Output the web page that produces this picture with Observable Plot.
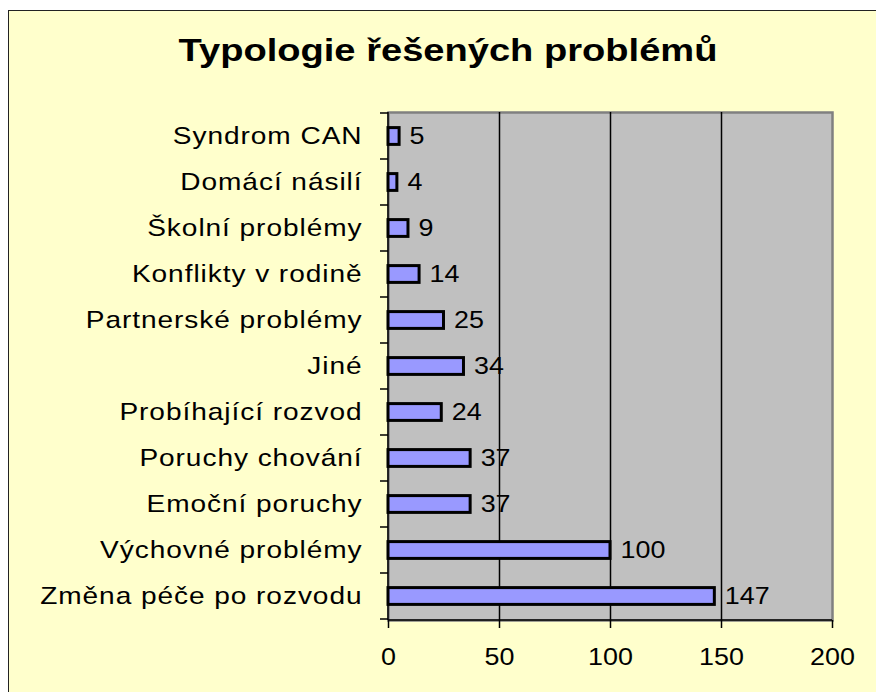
<!DOCTYPE html>
<html><head><meta charset="utf-8">
<script src="https://cdn.jsdelivr.net/npm/d3@7"></script>
<script src="https://cdn.jsdelivr.net/npm/@observablehq/plot@0.6"></script>
<style>
body{margin:0;background:#fff;}
#wrap{position:relative;width:876px;height:692px;overflow:hidden;}
#frame{position:absolute;left:8px;top:10px;width:900px;height:700px;border:1.5px solid #222;background:#FFFFCC;}
#title{position:absolute;left:0;width:896px;top:32px;line-height:36px;text-align:center;font:bold 32px "Liberation Sans",Arial,sans-serif;color:#000;transform:scaleX(1.19);transform-origin:448px 50%;}
#chart{position:absolute;left:0;top:0;}
</style></head><body>
<div id="wrap"><div id="frame"></div><div id="chart"></div><div id="title">Typologie řešených problémů</div></div>
<script>
const categories = ["Syndrom CAN","Domácí násilí","Školní problémy","Konflikty v rodině","Partnerské problémy","Jiné","Probíhající rozvod","Poruchy chování","Emoční poruchy","Výchovné problémy","Změna péče po rozvodu"];
const values = [5,4,9,14,25,34,24,37,37,100,147];
const xTicks = [0,50,100,150,200];
const gridValues = [50,100,150];

const data = categories.map((c,i)=>({cat:c, v:values[i]}));
const font = '"Liberation Sans", Arial, sans-serif';

const boundaryMark = (index, scales, values_, dims) => {
  const g = d3.create("svg:g");
  const y = scales.y;
  const bw = y.bandwidth ? y.bandwidth() : (dims.height - dims.marginTop - dims.marginBottom)/categories.length;
  const x0 = dims.marginLeft;
  const bounds = categories.map(c => y(c));
  bounds.push(y(categories[categories.length-1]) + bw);
  for (const b of bounds) {
    g.append("line").attr("x1", x0-8).attr("x2", x0).attr("y1", b).attr("y2", b).attr("stroke","#000").attr("stroke-width",1.5);
  }
  const yb = dims.height - dims.marginBottom;
  g.append("line").attr("x1", x0).attr("x2", dims.width - dims.marginRight).attr("y1", yb).attr("y2", yb).attr("stroke","#000").attr("stroke-width",1.5);
  g.append("line").attr("x1", x0).attr("x2", x0).attr("y1", dims.marginTop).attr("y2", yb).attr("stroke","#000").attr("stroke-width",1.5);
  return g.node();
};

const chart = Plot.plot({
  width: 876, height: 692,
  marginLeft: 388, marginRight: 44, marginTop: 112, marginBottom: 72,
  style: {background: "transparent", fontFamily: font, fontSize: "24px", color: "#000"},
  x: {domain: [0,200], ticks: xTicks, label: null},
  y: {domain: categories, padding: 0, label: null},
  marks: [
    Plot.frame({fill: "#C0C0C0", stroke: "#808080", strokeWidth: 2.5}),
    Plot.ruleX(gridValues, {stroke: "#000", strokeWidth: 1.5}),
    Plot.barX(data, {x: "v", y: "cat", fill: "#9999FF", stroke: "#000", strokeWidth: 3, insetTop: 14.6, insetBottom: 14.6}),
    Plot.text(data, {x: "v", y: "cat", text: d => String(d.v), textAnchor: "start", dx: 10, fill: "#000", fontSize: 24}),
    Plot.axisX({ticks: xTicks, tickSize: 8, tickPadding: 19, fontSize: 24, stroke: "#000", strokeWidth: 1.5}),
    Plot.axisY({tickSize: 0, tickPadding: 26, fontSize: 24}),
    boundaryMark
  ]
});
// stretch glyphs horizontally as in the reference rendering
function stretch(sel, s, ls) {
  chart.querySelectorAll(sel).forEach(t => {
    let tr = t.getAttribute("transform");
    if (!tr) {
      const x = t.getAttribute("x") || 0, y = t.getAttribute("y") || 0;
      t.removeAttribute("x"); t.removeAttribute("y");
      tr = `translate(${x},${y})`;
    }
    t.setAttribute("transform", tr + ` scale(${s},1)`);
    if (ls) t.style.letterSpacing = ls;
  });
}
stretch('[aria-label="y-axis tick label"] text', 1.17, "0.8px");
stretch('[aria-label="x-axis tick label"] text', 1.12, null);
stretch('[aria-label="text"] text', 1.12, null);
document.getElementById("chart").appendChild(chart);
</script>
</body></html>
